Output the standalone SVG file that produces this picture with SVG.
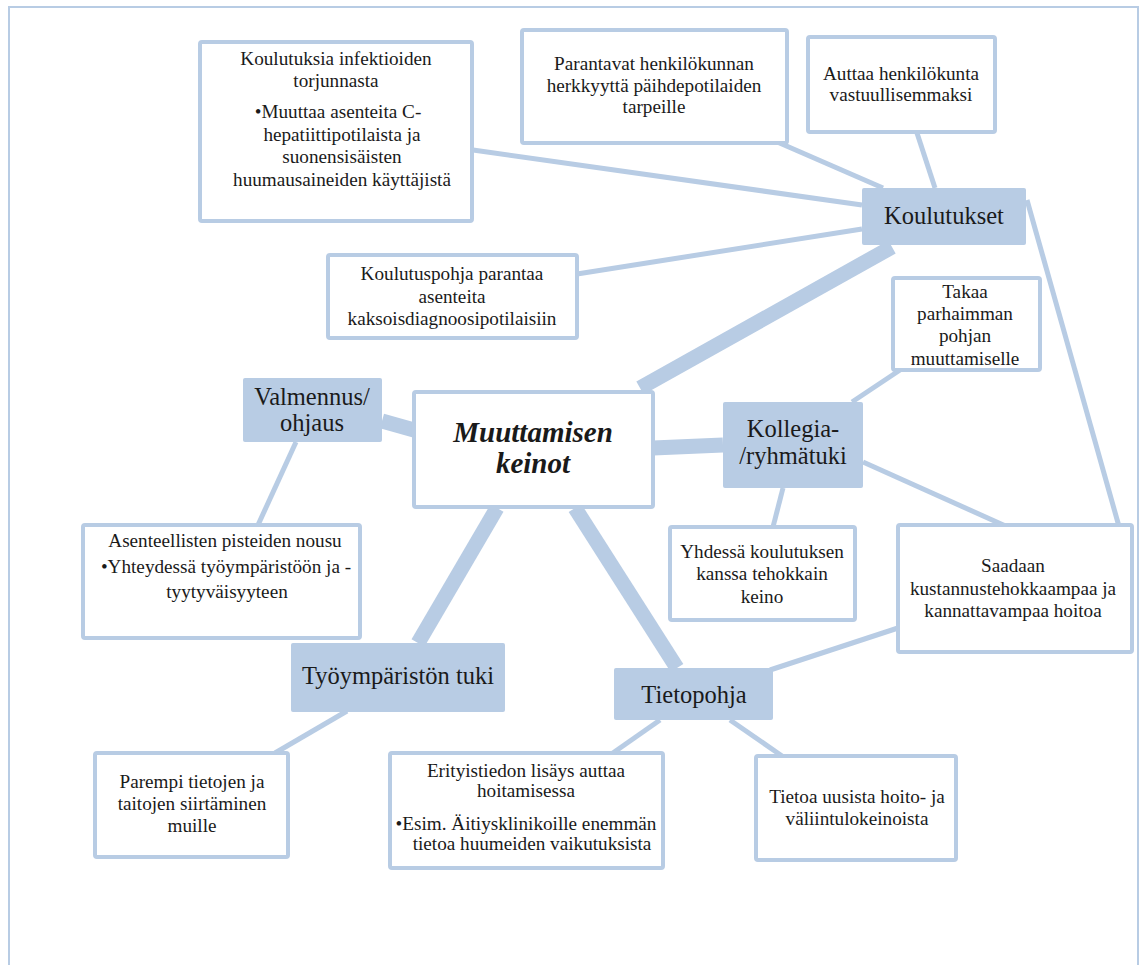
<svg xmlns="http://www.w3.org/2000/svg" width="1140" height="965" viewBox="0 0 1140 965">
<style>
.frame{fill:none;stroke:#b8cce4;stroke-width:2}
.box{fill:#fff;stroke:#b8cce4;stroke-width:4}
.hub{fill:#b8cce4;stroke:none}
.c{stroke:#b8cce4;stroke-linecap:butt;fill:none}
.thin{stroke-width:5}
.thick{stroke-width:15}
text{fill:#1a1a1a;text-anchor:middle}
.s{font-size:19.2px}
.h{font-size:24.5px}
.m{font-size:29px;font-weight:bold;font-style:italic}
</style>
<rect width="1140" height="965" fill="#fff"/>
<path class="frame" d="M9,965 V7 H1138 V965"/>
<g id="connectors">
  <line class="c thick" x1="640" y1="388" x2="892" y2="247"/>
  <line class="c thick" x1="382" y1="421" x2="414" y2="430"/>
  <line class="c thick" x1="653" y1="448" x2="723" y2="445"/>
  <line class="c thick" x1="497" y1="508" x2="418" y2="643"/>
  <line class="c thick" x1="575" y1="508" x2="677" y2="668"/>
  <line class="c thin" x1="473" y1="150" x2="862" y2="205"/>
  <line class="c thin" x1="775" y1="141" x2="883" y2="188"/>
  <line class="c thin" x1="917" y1="133" x2="935" y2="188"/>
  <line class="c thin" x1="577" y1="274" x2="862" y2="229"/>
  <line class="c thin" x1="1027" y1="200" x2="1120" y2="530"/>
  <line class="c thin" x1="852" y1="402" x2="900" y2="370"/>
  <line class="c thin" x1="783" y1="488" x2="773" y2="527"/>
  <line class="c thin" x1="863" y1="462" x2="1010" y2="528"/>
  <line class="c thin" x1="898" y1="628" x2="770" y2="670"/>
  <line class="c thin" x1="660" y1="720" x2="610" y2="755"/>
  <line class="c thin" x1="730" y1="720" x2="782" y2="756"/>
  <line class="c thin" x1="347" y1="711" x2="275" y2="753"/>
  <line class="c thin" x1="296" y1="442" x2="258" y2="525"/>
</g>
<g font-family="'Liberation Serif', 'DejaVu Serif', serif">
<g id="n-infektio">
  <rect class="box" x="200" y="42" width="272" height="179" rx="2"/>
  <text class="s" x="336" y="65">Koulutuksia infektioiden</text>
  <text class="s" x="336" y="87">torjunnasta</text>
  <text class="s" x="338" y="118">•Muuttaa asenteita C-</text>
  <text class="s" x="342" y="141">hepatiittipotilaista ja</text>
  <text class="s" x="342" y="163">suonensisäisten</text>
  <text class="s" x="342" y="186">huumausaineiden käyttäjistä</text>
</g>
<g id="n-parantavat">
  <rect class="box" x="522" y="30" width="265" height="113" rx="2"/>
  <text class="s" x="654" y="70">Parantavat henkilökunnan</text>
  <text class="s" x="654" y="92">herkkyyttä päihdepotilaiden</text>
  <text class="s" x="654" y="113">tarpeille</text>
</g>
<g id="n-auttaa">
  <rect class="box" x="808" y="37" width="187" height="95" rx="2"/>
  <text class="s" x="901" y="80">Auttaa henkilökunta</text>
  <text class="s" x="901" y="101">vastuullisemmaksi</text>
</g>
<g id="n-koulutukset">
  <rect class="hub" x="862" y="188" width="164" height="57" rx="2"/>
  <text class="h" x="944" y="224">Koulutukset</text>
</g>
<g id="n-koulutuspohja">
  <rect class="box" x="328" y="255" width="249" height="83" rx="2"/>
  <text class="s" x="452" y="280">Koulutuspohja parantaa</text>
  <text class="s" x="452" y="303">asenteita</text>
  <text class="s" x="452" y="325">kaksoisdiagnoosipotilaisiin</text>
</g>
<g id="n-valmennus">
  <rect class="hub" x="243" y="378" width="139" height="64" rx="2"/>
  <text class="h" x="312" y="405">Valmennus/</text>
  <text class="h" x="312" y="431">ohjaus</text>
</g>
<g id="n-keinot">
  <rect class="box" x="414" y="392" width="239" height="115" rx="2"/>
  <text class="m" x="533" y="442">Muuttamisen</text>
  <text class="m" x="533" y="473">keinot</text>
</g>
<g id="n-kollegia">
  <rect class="hub" x="723" y="402" width="140" height="86" rx="2"/>
  <text class="h" x="793" y="437">Kollegia-</text>
  <text class="h" x="793" y="464">/ryhmätuki</text>
</g>
<g id="n-takaa">
  <rect class="box" x="893" y="278" width="147" height="92" rx="2"/>
  <text class="s" x="965" y="298">Takaa</text>
  <text class="s" x="965" y="320">parhaimman</text>
  <text class="s" x="965" y="342">pohjan</text>
  <text class="s" x="965" y="365">muuttamiselle</text>
</g>
<g id="n-yhdessa">
  <rect class="box" x="670" y="527" width="185" height="93" rx="2"/>
  <text class="s" x="762" y="558">Yhdessä koulutuksen</text>
  <text class="s" x="762" y="580">kanssa tehokkain</text>
  <text class="s" x="762" y="603">keino</text>
</g>
<g id="n-saadaan">
  <rect class="box" x="898" y="525" width="234" height="127" rx="2"/>
  <text class="s" x="1013" y="572">Saadaan</text>
  <text class="s" x="1013" y="595">kustannustehokkaampaa ja</text>
  <text class="s" x="1013" y="617">kannattavampaa hoitoa</text>
</g>
<g id="n-asenteellisten">
  <rect class="box" x="83" y="525" width="277" height="113" rx="2"/>
  <text class="s" x="225" y="547">Asenteellisten pisteiden nousu</text>
  <text class="s" x="226" y="573">•Yhteydessä työympäristöön ja  -</text>
  <text class="s" x="227" y="598">tyytyväisyyteen</text>
</g>
<g id="n-tyoymparisto">
  <rect class="hub" x="291" y="643" width="214" height="69" rx="2"/>
  <text class="h" x="398" y="684">Työympäristön tuki</text>
</g>
<g id="n-parempi">
  <rect class="box" x="95" y="753" width="193" height="104" rx="2"/>
  <text class="s" x="192" y="788">Parempi tietojen ja</text>
  <text class="s" x="192" y="810">taitojen siirtäminen</text>
  <text class="s" x="192" y="832">muille</text>
</g>
<g id="n-tietopohja">
  <rect class="hub" x="614" y="668" width="159" height="52" rx="2"/>
  <text class="h" x="694" y="703">Tietopohja</text>
</g>
<g id="n-erityistiedon">
  <rect class="box" x="390" y="753" width="273" height="115" rx="2"/>
  <text class="s" x="526" y="777">Erityistiedon lisäys auttaa</text>
  <text class="s" x="526" y="797">hoitamisessa</text>
  <text class="s" x="526" y="830">•Esim. Äitiysklinikoille enemmän</text>
  <text class="s" x="532" y="850">tietoa huumeiden vaikutuksista</text>
</g>
<g id="n-tietoa">
  <rect class="box" x="756" y="756" width="200" height="104" rx="2"/>
  <text class="s" x="857" y="803">Tietoa uusista hoito- ja</text>
  <text class="s" x="857" y="825">väliintulokeinoista</text>
</g>
</g>
</svg>
